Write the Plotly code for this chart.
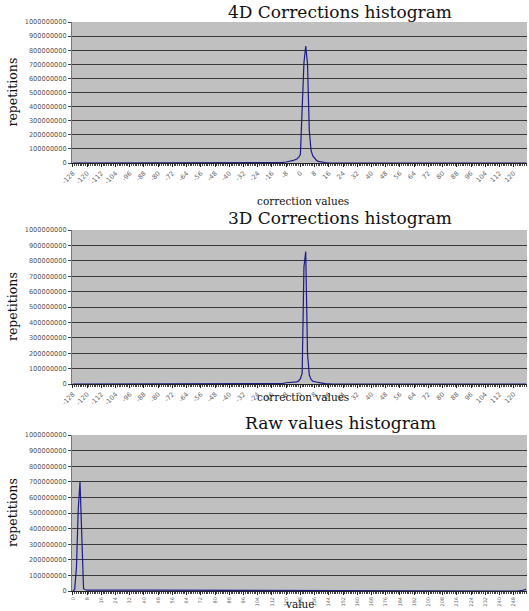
import plotly.graph_objects as go

# ---- data ----
d4_x = [-128, -14, -12, -10, -8, -6, -4, -2, -1, 0, 1, 2, 3, 4, 5, 6, 7, 8, 9, 10, 12, 14, 16, 18, 22, 127]
d4_y = [0, 0, 2e6, 4e6, 7e6, 12e6, 18e6, 28e6, 40e6, 60e6, 420e6, 710e6, 830e6, 705e6, 230e6, 90e6, 50e6, 32e6, 20e6, 12e6, 6e6, 3e6, 1e6, 0, 0, 0]

d3_x = [-128, -14, -10, -8, -6, -4, -2, -1, 0, 1, 2, 3, 4, 5, 6, 7, 8, 10, 12, 14, 18, 127]
d3_y = [0, 0, 3e6, 8e6, 10e6, 12e6, 14e6, 20e6, 35e6, 70e6, 760e6, 860e6, 200e6, 60e6, 30e6, 18e6, 14e6, 10e6, 6e6, 2e6, 0, 0]

raw_x = [0, 1, 2, 3, 4, 5, 6, 7, 8, 40, 80, 120, 165, 166, 250, 253, 255]
raw_y = [0, 10e6, 150e6, 520e6, 700e6, 290e6, 15e6, 8e6, 5e6, 5e6, 4e6, 4e6, 3e6, 0, 0, 4e6, 10e6]

corr_ticks = list(range(-128, 128, 8))
raw_ticks = list(range(0, 256, 8))
y_ticks = list(range(0, 1000000001, 100000000))

titles = ["4D Corrections histogram", "3D Corrections histogram", "Raw values histogram"]
xtitles = ["correction values", "correction values", "value"]

W, H = 529, 611
LINE = "#1c1c8a"
SERIF = "DejaVu Serif"

fig = go.Figure()

# plot areas in pixels: (top, bottom)
areas = [(22, 163), (230, 384), (435, 591)]
x0, x1 = 72, 527

datasets = [(d4_x, d4_y), (d3_x, d3_y), (raw_x, raw_y)]
for i, (xs, ys) in enumerate(datasets):
    n = "" if i == 0 else str(i + 1)
    fig.add_trace(go.Scatter(x=xs, y=ys, mode="lines", line=dict(color=LINE, width=1.2),
                             xaxis="x" + n, yaxis="y" + n, showlegend=False, hoverinfo="skip"))

layout = dict(width=W, height=H, margin=dict(l=0, r=0, t=0, b=0, autoexpand=False),
              template="none",
              paper_bgcolor="white", plot_bgcolor="#c0c0c0", showlegend=False)

for i in range(3):
    n = "" if i == 0 else str(i + 1)
    top, bot = areas[i]
    if i < 2:
        tv = corr_ticks
        rng = [-128.5, 127.5]
        ang = -45
        tf = 6.5
    else:
        tv = raw_ticks
        rng = [-0.5, 255.5]
        ang = -90
        tf = 5
    layout["xaxis" + n] = dict(
        domain=[x0 / W, x1 / W], anchor="y" + n, range=rng, automargin=False,
        tickvals=tv, ticktext=[str(v) for v in tv], tickangle=ang,
        tickfont=dict(size=tf, color="#666", family="DejaVu Sans"),
        ticks="outside", ticklen=3, tickcolor="#222",
        minor=dict(dtick=1, ticks="outside", ticklen=2, tickcolor="#444"),
        showgrid=False, zeroline=False, showline=True, linecolor="#222", linewidth=1,
    )
    layout["yaxis" + n] = dict(
        domain=[1 - bot / H, 1 - top / H], anchor="x" + n, range=[0, 1000000000], automargin=False,
        tickvals=y_ticks, tickformat="d",
        tickfont=dict(size=6.6, color="#555", family="DejaVu Sans"),
        ticks="outside", ticklen=3, tickcolor="#444",
        showgrid=True, gridcolor="#3a3a3a", gridwidth=1,
        zeroline=False, showline=True, linecolor="#777", linewidth=1,
    )

ann = []
title_y = [12, 218, 423]
xt_y = [201, 397, 604]
for i in range(3):
    top, bot = areas[i]
    ann.append(dict(text=titles[i], x=340 / W, y=1 - title_y[i] / H, xref="paper", yref="paper",
                    showarrow=False, xanchor="center", yanchor="middle",
                    font=dict(family=SERIF, size=17, color="#111")))
    ann.append(dict(text=xtitles[i], x=(303 if i < 2 else 300) / W, y=1 - xt_y[i] / H,
                    xref="paper", yref="paper", showarrow=False, xanchor="center", yanchor="middle",
                    font=dict(family=SERIF, size=10.5, color="#111")))
    ann.append(dict(text="repetitions", x=12 / W, y=1 - ((top + bot) / 2) / H, xref="paper", yref="paper",
                    showarrow=False, textangle=-90, xanchor="center", yanchor="middle",
                    font=dict(family=SERIF, size=12.5, color="#111")))
layout["annotations"] = ann

fig.update_layout(**layout)
fig.write_html("out.html", config={"displayModeBar": False},
               post_script="document.body.style.margin='0';document.body.style.overflow='hidden';")
